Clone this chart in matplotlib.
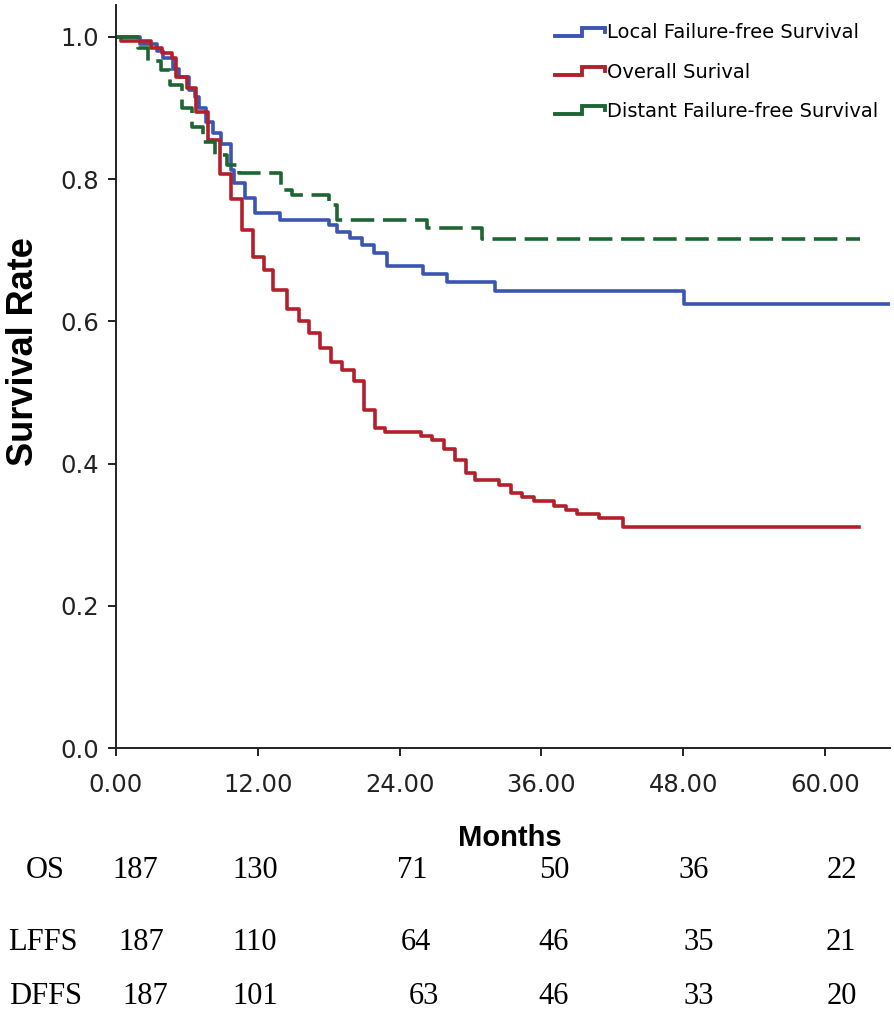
import matplotlib
matplotlib.use("Agg")
import matplotlib.pyplot as plt
from matplotlib.lines import Line2D
from matplotlib.legend_handler import HandlerBase

# ---------------- data ----------------
os_t = [0, 0.4, 3.0, 3.9, 4.7, 5.1, 6.0, 6.8, 7.8, 8.8, 9.7, 10.65, 11.6, 12.5, 13.3, 14.5,
        15.45, 16.3, 17.3, 18.2, 19.1, 20.1, 21.0, 21.95, 22.8, 25.8, 26.75, 27.75, 28.7,
        29.6, 30.4, 32.4, 33.4, 34.4, 35.4, 37.1, 38.05, 39.0, 40.9, 42.9, 62.9]
os_s = [1.0, 0.995, 0.984, 0.977, 0.970, 0.944, 0.928, 0.895, 0.855, 0.808, 0.772, 0.729,
        0.691, 0.672, 0.644, 0.618, 0.600, 0.583, 0.562, 0.543, 0.531, 0.516, 0.476, 0.450,
        0.445, 0.439, 0.433, 0.421, 0.405, 0.387, 0.377, 0.370, 0.358, 0.353, 0.347, 0.341,
        0.335, 0.329, 0.323, 0.311, 0.311]

lffs_t = [0, 2.0, 3.5, 4.0, 4.8, 5.3, 6.2, 6.7, 7.0, 7.6, 8.2, 8.9, 9.7, 10.0, 10.9, 11.8,
          13.9, 18.0, 18.7, 19.8, 20.8, 21.8, 22.9, 26.0, 28.0, 32.1, 48.1, 66.0]
lffs_s = [1.0, 0.99, 0.98, 0.97, 0.955, 0.944, 0.925, 0.916, 0.90, 0.88, 0.865, 0.85, 0.813,
          0.794, 0.773, 0.752, 0.743, 0.736, 0.726, 0.717, 0.707, 0.696, 0.678, 0.667, 0.656,
          0.643, 0.624, 0.624]

dffs_t = [0, 1.9, 2.7, 3.8, 4.6, 5.6, 6.4, 7.4, 8.4, 9.4, 10.4, 14.0, 14.9, 18.0, 18.7,
          26.3, 31.0, 63.0]
dffs_s = [1.0, 0.985, 0.966, 0.954, 0.932, 0.90, 0.874, 0.853, 0.834, 0.820, 0.809, 0.785,
          0.778, 0.764, 0.743, 0.731, 0.716, 0.716]

legend_labels = ["Local Failure-free Survival", "Overall Surival", "Distant Failure-free Survival"]
x_ticks = [0, 12, 24, 36, 48, 60]
y_ticks = [0.0, 0.2, 0.4, 0.6, 0.8, 1.0]

risk_rows = ["OS", "LFFS", "DFFS"]
risk_os = [187, 130, 71, 50, 36, 22]
risk_lffs = [187, 110, 64, 46, 35, 21]
risk_dffs = [187, 101, 63, 46, 33, 20]

# ---------------- styling ----------------
C_BLUE = "#3a55b4"
C_RED = "#b3202c"
C_GREEN = "#1d6632"
W, H = 894, 1018

plt.rcParams['font.family'] = ['DejaVu Sans']

fig = plt.figure(figsize=(W / 100, H / 100), dpi=100)
ax = fig.add_axes([116 / W, (H - 748) / H, (890 - 116) / W, (748 - 5) / H])

LW = 2.6
ax.step(lffs_t, lffs_s, where="post", color=C_BLUE, lw=LW, label=legend_labels[0])
ax.step(os_t, os_s, where="post", color=C_RED, lw=LW, label=legend_labels[1])
ax.step(dffs_t, dffs_s, where="post", color=C_GREEN, lw=LW, linestyle=(0, (6.5, 2.4)),
        label=legend_labels[2])

ax.set_xlim(0, 65.5)
ax.set_ylim(0, 1.045)
ax.set_xticks(x_ticks)
ax.set_xticklabels([f"{v:.2f}" for v in x_ticks])
ax.set_yticks(y_ticks)
ax.set_yticklabels([f"{v:.1f}" for v in y_ticks])
for s in ["top", "right"]:
    ax.spines[s].set_visible(False)
for s in ["left", "bottom"]:
    ax.spines[s].set_linewidth(1.4)
    ax.spines[s].set_color("#222222")
ax.tick_params(axis="both", direction="out", length=6, width=1.4, labelsize=17.5,
               colors="#222222", pad=6)
ax.tick_params(axis="x", pad=12)

ax.set_ylabel("Survival Rate", fontsize=26, fontweight="bold",
              family="Liberation Sans")
ax.yaxis.set_label_coords(-0.097, 0.533)


class StepHandler(HandlerBase):
    def create_artists(self, legend, orig_handle, xdescent, ydescent, width, height,
                       fontsize, trans):
        xs = [0, width * 0.55, width * 0.55, width, width]
        ys = [height * 0.2, height * 0.2, height * 0.8, height * 0.8, height * 0.5]
        ln = Line2D(xs, ys, color=orig_handle.get_color(), lw=2.8,
                    transform=trans, solid_joinstyle="miter")
        return [ln]


handles, labels = ax.get_legend_handles_labels()
leg = ax.legend(handles, labels, loc="upper left", bbox_to_anchor=(537 / W, 1 - 6 / H),
                bbox_transform=fig.transFigure, frameon=False, fontsize=14,
                handlelength=2.58, handletextpad=0.1, labelspacing=1.04,
                handler_map={Line2D: StepHandler()})

fig.text(510 / W, 1 - 838 / H, "Months", ha="center", va="center", fontsize=21,
         fontweight="bold", family="Liberation Sans")

risk_x = {
    "OS": [45, 135, 255, 412, 554, 694, 842],
    "LFFS": [43, 141, 255, 416, 554, 699, 841],
    "DFFS": [46, 145, 255, 424, 554, 699, 842],
}
risk_y = {"OS": 870, "LFFS": 942, "DFFS": 997}
risk_vals = {"OS": risk_os, "LFFS": risk_lffs, "DFFS": risk_dffs}
for row in risk_rows:
    xs = risk_x[row]
    y = 1 - risk_y[row] / H
    fig.text(xs[0] / W, y, row, ha="center", va="center", fontsize=22,
             family="Liberation Serif")
    for xv, v in zip(xs[1:], risk_vals[row]):
        fig.text(xv / W, y, str(v), ha="center", va="center", fontsize=22,
                 family="Liberation Serif")

fig.savefig("out.png", dpi=100)
